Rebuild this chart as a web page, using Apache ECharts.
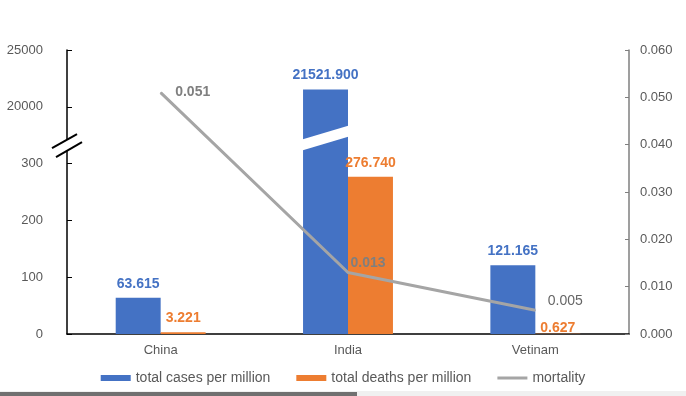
<!DOCTYPE html>
<html>
<head>
<meta charset="utf-8">
<script src="https://cdn.jsdelivr.net/npm/echarts@6/dist/echarts.min.js"></script>
<style>
  html, body { margin: 0; padding: 0; background: #fff; }
  #chart { width: 686px; height: 396px; }
</style>
</head>
<body>
<div id="chart"></div>
<script>
// data
const countries = ['China', 'India', 'Vetinam'];
const casesPerMillion = [63.615, 21521.9, 121.165];
const deathsPerMillion = [3.221, 276.74, 0.627];
const mortality = [0.051, 0.013, 0.005];
const leftTickLabels = ['0', '100', '200', '300', '20000', '25000'];

// broken left axis: 0-300 linear on ticks 0..3, then 20000-25000 on tick 4..5
function toAxis(v) {
  return v <= 300 ? v / 100 : 4 + (v - 20000) / 5000;
}
const BREAK_AT = 3.45;

const FONT = 'Liberation Sans, Arial, sans-serif';
const BLUE = '#4472C4';
const ORANGE = '#ED7D31';
const GRAY = '#A5A5A5';
const TEXT = '#595959';

const chart = echarts.init(document.getElementById('chart'));

const option = {
  animation: false,
  textStyle: { fontFamily: FONT },
  grid: { left: 67, right: 57, top: 50, bottom: 62 },
  legend: {
    bottom: 6,
    left: 'center',
    itemWidth: 30,
    itemHeight: 6,
    itemGap: 26,
    textStyle: { color: TEXT, fontSize: 14, fontFamily: FONT },
    data: [
      { name: 'total cases per million', icon: 'rect' },
      { name: 'total deaths per million', icon: 'rect' },
      { name: 'mortality', icon: 'path://M0,0M0,1.5h30v3h-30zM30,6' }
    ]
  },
  xAxis: {
    type: 'category',
    data: countries,
    axisLine: { lineStyle: { color: '#000', width: 1.5 } },
    axisTick: { show: false },
    axisLabel: { color: TEXT, fontSize: 13, margin: 10 }
  },
  yAxis: [
    {
      type: 'value',
      min: 0,
      max: 5,
      interval: 1,
      axisLine: { show: true, lineStyle: { color: '#000', width: 1.5 } },
      axisTick: { show: true, inside: true, length: 5, lineStyle: { color: '#000' } },
      splitLine: { show: false },
      axisLabel: {
        color: TEXT,
        fontSize: 13,
        margin: 24,
        formatter: function (v) { return leftTickLabels[Math.round(v)]; }
      }
    },
    {
      type: 'value',
      position: 'right',
      min: 0,
      max: 0.06,
      interval: 0.01,
      axisLine: { show: true, lineStyle: { color: '#7F7F7F', width: 1.5 } },
      axisTick: { show: true, inside: true, length: 4, lineStyle: { color: '#7F7F7F' } },
      splitLine: { show: false },
      axisLabel: {
        color: TEXT,
        fontSize: 13,
        margin: 11,
        formatter: function (v) { return v.toFixed(3); }
      }
    }
  ],
  series: [
    {
      name: 'total cases per million',
      type: 'bar',
      barWidth: '24%',
      barGap: '0%',
      itemStyle: { color: BLUE },
      label: {
        show: true,
        position: 'top',
        distance: 7,
        color: BLUE,
        fontSize: 14,
        fontWeight: 'bold',
        formatter: function (p) { return casesPerMillion[p.dataIndex].toFixed(3); }
      },
      data: casesPerMillion.map(toAxis)
    },
    {
      name: 'total deaths per million',
      type: 'bar',
      barWidth: '24%',
      itemStyle: { color: ORANGE },
      label: {
        show: true,
        position: 'top',
        distance: 7,
        color: ORANGE,
        fontSize: 14,
        fontWeight: 'bold',
        formatter: function (p) { return deathsPerMillion[p.dataIndex].toFixed(3); }
      },
      data: deathsPerMillion.map(function (v, i) {
        const item = { value: toAxis(v) };
        if (i === 2) item.label = { offset: [0, 8] };
        return item;
      })
    },
    {
      name: 'mortality',
      type: 'line',
      yAxisIndex: 1,
      symbol: 'circle',
      symbolSize: 1,
      itemStyle: { color: GRAY },
      lineStyle: { color: GRAY, width: 3 },
      z: 4,
      label: {
        show: true,
        position: 'right',
        color: '#7F7F7F',
        fontSize: 14,
        fontWeight: 'bold',
        formatter: function (p) { return p.value.toFixed(3); }
      },
      data: mortality.map(function (v, i) {
        const item = { value: v };
        if (i === 0) item.label = { distance: 14 };
        if (i === 1) item.label = { distance: 2, offset: [0, -9] };
        if (i === 2) item.label = { distance: 12, offset: [0, -9], fontWeight: 'normal', color: '#666' };
        return item;
      })
    },
    {
      // axis break: white cut on India's bar and "//" on the left axis
      type: 'custom',
      z: 6,
      silent: true,
      renderItem: function (params, api) {
        const c = api.coord([api.value(0), api.value(1)]);
        const w = api.size([1, 0])[0] * 0.24;
        const xl = c[0] - w - 1;
        const xr = c[0] + 1;
        const rise = w * 0.31;
        const half = 5.5;
        const ax = params.coordSys.x;
        const ay = c[1] + 7;
        return {
          type: 'group',
          children: [
            {
              type: 'polygon',
              shape: { points: [
                [xl, c[1] + rise / 2 - half], [xr, c[1] - rise / 2 - half],
                [xr, c[1] - rise / 2 + half], [xl, c[1] + rise / 2 + half]
              ] },
              style: { fill: '#fff' }
            },
            {
              type: 'polygon',
              shape: { points: [[ax - 15, ay + 3], [ax + 10, ay - 11], [ax + 15, ay - 3], [ax - 11, ay + 12]] },
              style: { fill: '#fff' }
            },
            {
              type: 'line',
              shape: { x1: ax - 15, y1: ay + 3, x2: ax + 10, y2: ay - 11 },
              style: { stroke: '#000', lineWidth: 2 }
            },
            {
              type: 'line',
              shape: { x1: ax - 11, y1: ay + 12, x2: ax + 15, y2: ay - 3 },
              style: { stroke: '#000', lineWidth: 2 }
            }
          ]
        };
      },
      data: [[countries[1], BREAK_AT]]
    }
  ],
  graphic: [
    { type: 'rect', left: 0, bottom: 0, shape: { width: 686, height: 5 }, style: { fill: '#F0F0F0' }, silent: true },
    { type: 'rect', left: 0, bottom: 0, shape: { width: 357, height: 4 }, style: { fill: '#707070' }, silent: true }
  ]
};

chart.setOption(option);
</script>
</body>
</html>
